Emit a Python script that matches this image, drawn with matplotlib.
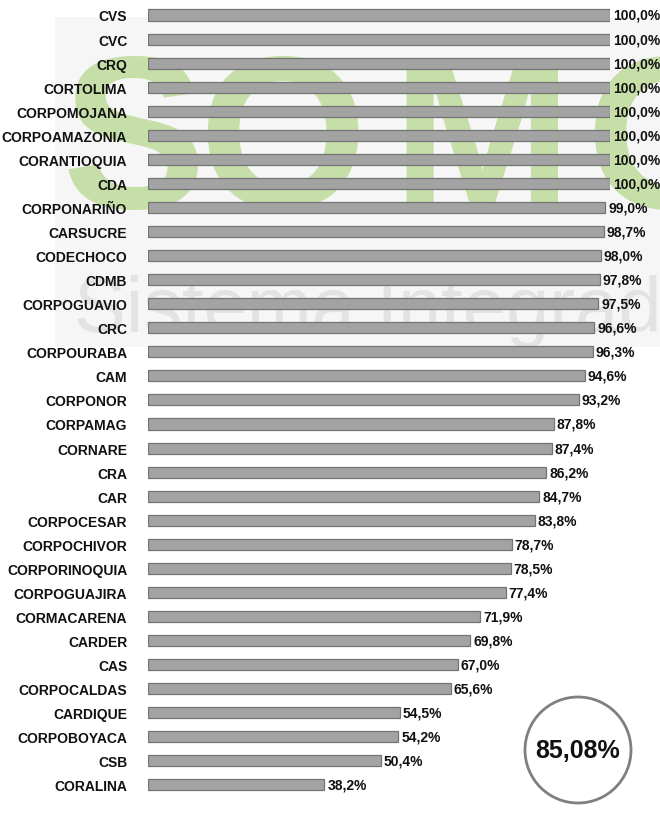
import matplotlib
matplotlib.use("Agg")
import matplotlib.pyplot as plt
from matplotlib import font_manager
from matplotlib.patches import Circle, Rectangle

names = ["CVS", "CVC", "CRQ", "CORTOLIMA", "CORPOMOJANA", "CORPOAMAZONIA",
         "CORANTIOQUIA", "CDA", "CORPONARIÑO", "CARSUCRE", "CODECHOCO", "CDMB",
         "CORPOGUAVIO", "CRC", "CORPOURABA", "CAM", "CORPONOR", "CORPAMAG",
         "CORNARE", "CRA", "CAR", "CORPOCESAR", "CORPOCHIVOR", "CORPORINOQUIA",
         "CORPOGUAJIRA", "CORMACARENA", "CARDER", "CAS", "CORPOCALDAS",
         "CARDIQUE", "CORPOBOYACA", "CSB", "CORALINA"]
values = [100.0, 100.0, 100.0, 100.0, 100.0, 100.0, 100.0, 100.0, 99.0, 98.7,
          98.0, 97.8, 97.5, 96.6, 96.3, 94.6, 93.2, 87.8, 87.4, 86.2, 84.7,
          83.8, 78.7, 78.5, 77.4, 71.9, 69.8, 67.0, 65.6, 54.5, 54.2, 50.4, 38.2]
average = "85,08%"
watermark_big = "SOMOS"
watermark_small = "Sistema Integrado"

installed = {f.name for f in font_manager.fontManager.ttflist}
label_font = ["Liberation Sans Narrow", "DejaVu Sans"] if "Liberation Sans Narrow" in installed \
    else ["Liberation Sans", "DejaVu Sans"]

W, H = 660, 820
fig = plt.figure(figsize=(W / 100, H / 100), dpi=100)

# background watermark (pixel coords)
bg = fig.add_axes([0, 0, 1, 1], zorder=0)
bg.set_xlim(0, W)
bg.set_ylim(H, 0)
bg.axis("off")
bg.add_patch(Rectangle((55, 18), W - 55, 330, color="#f6f6f6", lw=0))
letter_x = [62, 198, 392, 585, 780]
for ch, x in zip(watermark_big, letter_x):
    bg.text(x, 208, ch, fontsize=156, fontweight="bold", color="#c6dfa8",
            family="Liberation Sans", ha="left", va="baseline")
bg.text(74, 332, watermark_small, fontsize=56, color="#e3e3e3",
        family="Liberation Sans", ha="left", va="baseline")

ax = fig.add_axes([148 / W, 0, 462 / W, 1], zorder=1)
ax.patch.set_alpha(0)
y = list(range(len(names)))
ax.barh(y, values, height=0.46, color="#a3a3a3", edgecolor="#747474", lw=0.9)
ax.set_xlim(0, 100)
ax.set_ylim(33.42, -0.665)
ax.set_yticks(y)
ax.set_yticklabels(names, family=label_font, fontsize=10, fontweight="bold",
                   color="#111111")
ax.tick_params(axis="y", length=0, pad=15)
ax.set_xticks([])
for s in ax.spines.values():
    s.set_visible(False)
for yi, v in zip(y, values):
    ax.text(v + 0.6, yi, f"{v:.1f}%".replace(".", ","), family=label_font,
            fontsize=10, fontweight="bold", color="#111111",
            va="center", ha="left", clip_on=False)

# average circle
top = fig.add_axes([0, 0, 1, 1], zorder=2)
top.set_xlim(0, W)
top.set_ylim(H, 0)
top.axis("off")
top.add_patch(Circle((578, 751), 53, fill=False, edgecolor="#7f7f7f", lw=2))
top.text(578, 751, average, fontsize=18, fontweight="bold", family=label_font,
         ha="center", va="center", color="#111111")

fig.savefig("out.png", dpi=100)
